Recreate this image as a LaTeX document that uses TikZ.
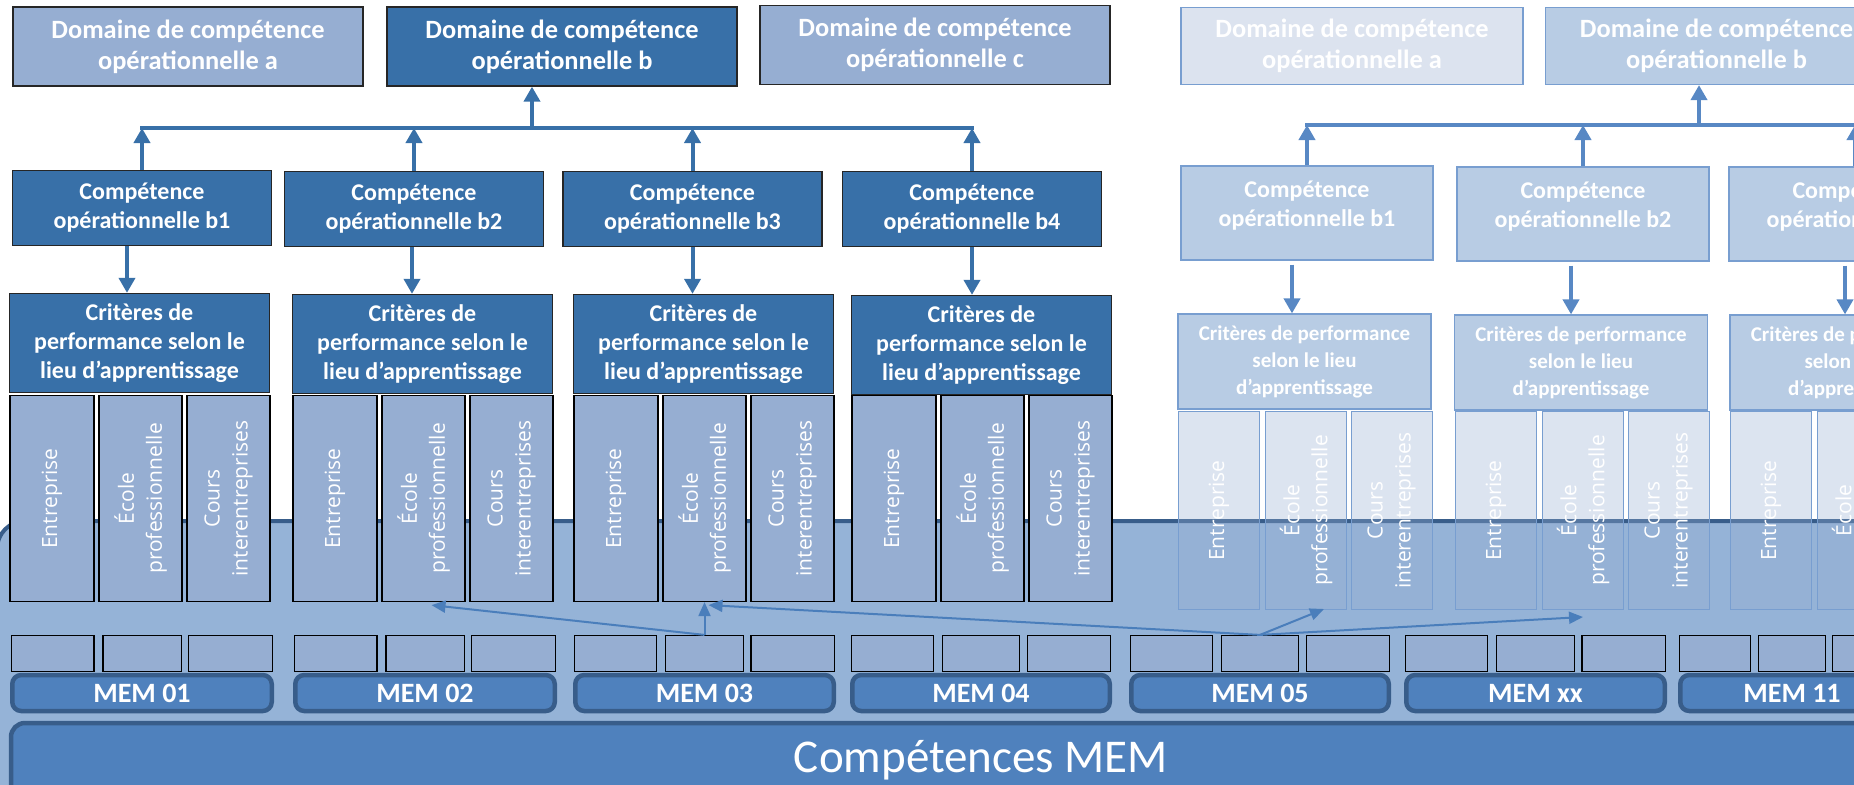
\documentclass[tikz,border=0pt]{standalone}
\usepackage{fontspec}
\setmainfont{Carlito}
\newfontfamily\colfont{Open Sans}
\usetikzlibrary{arrows.meta, calc}

\definecolor{boxDark}{RGB}{56,112,168}
\definecolor{boxLight}{RGB}{150,174,210}
\definecolor{bgBlue}{RGB}{149,179,215}
\definecolor{memFill}{RGB}{79,129,189}
\definecolor{memLine}{RGB}{56,93,138}
\definecolor{arrowDark}{RGB}{56,112,168}
\definecolor{arrowFade}{RGB}{88,136,196}
\definecolor{lineFade}{RGB}{120,158,208}
\definecolor{fadeDark}{RGB}{184,204,228}
\definecolor{fadeLight}{RGB}{220,227,239}
\definecolor{linkBlue}{RGB}{74,126,187}

\begin{document}
\begin{tikzpicture}[x=1pt, y=-1pt,
    box/.style={draw=black!85, line width=1.3pt, text=white, align=center, inner sep=1pt},
    dom/.style={box, font=\bfseries\fontsize{26.4}{31}\selectfont, minimum width=350, minimum height=79},
    comp/.style={box, fill=boxDark, font=\bfseries\fontsize{24}{29}\selectfont, minimum width=259, minimum height=75},
    crit/.style={box, fill=boxDark, font=\bfseries\fontsize{24}{29}\selectfont, minimum width=260, minimum height=99},
    ghost/.style={draw=lineFade, line width=1.2pt, fill=fadeDark, text=white, align=center, inner sep=1pt},
    gdom/.style={ghost, font=\bfseries\fontsize{26.4}{31}\selectfont, minimum width=342, minimum height=77},
    gcomp/.style={ghost, font=\bfseries\fontsize{24}{29}\selectfont, minimum width=252, minimum height=94},
    gcrit/.style={ghost, font=\bfseries\fontsize{21}{27}\selectfont, minimum width=253, minimum height=95},
    colbox/.style={draw=black, line width=1.2pt, fill=boxLight, inner sep=0pt, minimum width=83, minimum height=206},
    ghostcol/.style={draw=lineFade, line width=1pt, fill=boxLight, fill opacity=0.33, inner sep=0pt, minimum width=81, minimum height=198},
    coltext/.style={rotate=90, text=white, text opacity=1, fill opacity=1, align=center, font=\colfont\fontsize{21}{28}\selectfont},
    slot/.style={draw=black, line width=1.2pt, fill=boxLight, inner sep=0pt, minimum height=36},
    mem/.style={draw=memLine, line width=4.5pt, fill=memFill, rounded corners=9pt, text=white, inner sep=0pt, minimum height=36, font=\bfseries\fontsize{28}{34}\selectfont},
    bar/.style={draw=arrowDark, line width=4pt, line cap=rect},
    up/.style={draw=arrowDark, line width=4pt, -{Triangle[length=15pt,width=16pt]}},
    gbar/.style={draw=arrowFade, line width=4pt, line cap=rect},
    gup/.style={draw=arrowFade, line width=4pt, -{Triangle[length=15pt,width=16pt]}},
    link/.style={draw=linkBlue, line width=2pt, -{Triangle[length=14pt,width=12pt]}}]

    \useasboundingbox (0,0) rectangle (1854,784);
    \clip (0,0) rectangle (1854,784);

    % background band and base bar
    \draw[draw=memLine, line width=4pt, fill=bgBlue, rounded corners=28pt] (-3,521) rectangle (1900,840);
    \node[mem, minimum width=1940, minimum height=74, rounded corners=14pt, font=\fontsize{47}{56}\selectfont] (base) at (981,760) {Compétences MEM};

    % modules with their slots
    \foreach \g/\M/\W/\n in {1/10/264/01, 2/293/264/02, 3/573/263/03, 4/850/262/04, 5/1129/262/05, 6/1404/263/xx, 7/1678/228/11} {
        \node[slot, minimum width={0.32*\W-2}] (sa\g) at ({\M+(1+0.32*\W)/2}, 653.5) {};
        \node[slot, minimum width={0.3*\W-1}] (sb\g) at ({\M+0.5*\W}, 653.5) {};
        \node[slot, minimum width={0.325*\W-2}] (sc\g) at ({\M+(0.675*\W+\W-1)/2}, 653.5) {};
        \node[mem, minimum width={\W-4.5}] (mem\g) at ({\M+\W/2}, 693) {MEM \n};
    }

    % learning places, domain b
    \foreach \g/\L in {1/9, 2/292, 3/573, 4/851} {
        \node[colbox, minimum width=84, label={[coltext]center:Entreprise}] (ent\g) at (\L+43, 498.5) {};
        \node[colbox, label={[coltext]center:{École\\professionnelle}}] (eco\g) at (\L+131.5, 498.5) {};
        \node[colbox, label={[coltext]center:{Cours\\interentreprises}}] (cours\g) at (\L+219.5, 498.5) {};
    }
    \foreach \g/\L in {5/1177, 6/1454, 7/1729} {
        \node[ghostcol, label={[coltext]center:Entreprise}] (ent\g) at (\L+42, 510.5) {};
        \node[ghostcol, label={[coltext]center:{École\\professionnelle}}] (eco\g) at (\L+129, 510.5) {};
        \node[ghostcol, label={[coltext]center:{Cours\\interentreprises}}] (cours\g) at (\L+214.5, 510.5) {};
    }

    % domains
    \node[dom, fill=boxLight] (da) at (188,46.5) {Domaine de compétence\\opérationnelle a};
    \node[dom, fill=boxDark] (db) at (562,46.5) {Domaine de compétence\\opérationnelle b};
    \node[dom, fill=boxLight] (dc) at (935,45) {Domaine de compétence\\opérationnelle c};

    % competences b1..b4 and criteria
    \node[comp] (b1) at (142,208) {Compétence\\opérationnelle b1};
    \node[comp] (b2) at (414,209) {Compétence\\opérationnelle b2};
    \node[comp] (b3) at (692.5,209) {Compétence\\opérationnelle b3};
    \node[comp] (b4) at (972,209) {Compétence\\opérationnelle b4};
    \node[crit] (c1) at (139.5,343) {Critères de\\performance selon le\\lieu d’apprentissage};
    \node[crit] (c2) at (422.5,344) {Critères de\\performance selon le\\lieu d’apprentissage};
    \node[crit] (c3) at (703.5,344) {Critères de\\performance selon le\\lieu d’apprentissage};
    \node[crit] (c4) at (981.5,345) {Critères de\\performance selon le\\lieu d’apprentissage};

    \coordinate (hl) at (0,128);
    \coordinate (jb) at (532,128);
    \draw[bar] (b1.north |- hl) -- (b4.north |- hl);
    \draw[up] (jb) -- (jb |- db.south);
    \foreach \i/\dx in {1/-15, 2/-2, 3/0, 4/0} {
        \draw[up] (b\i.north) -- (b\i.north |- hl);
        \coordinate (t\i) at ([xshift=\dx]b\i.south);
        \draw[up] (t\i) -- (t\i |- c\i.north);
    }

    % faded copy on the right
    \node[gdom, fill=fadeLight] (gda) at (1352,46) {Domaine de compétence\\opérationnelle a};
    \node[gdom] (gdb) at (1716.5,46) {Domaine de compétence\\opérationnelle b};
    \node[gcomp] (gb1) at (1307,213) {Compétence\\opérationnelle b1\\[-10pt]\mbox{}};
    \node[gcomp] (gb2) at (1583,214) {Compétence\\opérationnelle b2\\[-10pt]\mbox{}};
    \node[gcomp] (gb3) at (1855,214) {Compétence\\opérationnelle b3\\[-10pt]\mbox{}};
    \node[gcrit] (gc1) at (1304.5,361.5) {Critères de performance\\selon le lieu\\d’apprentissage};
    \node[gcrit] (gc2) at (1581,362.5) {Critères de performance\\selon le lieu\\d’apprentissage};
    \node[gcrit] (gc3) at (1856.5,362.5) {Critères de performance\\selon le lieu\\d’apprentissage};

    \coordinate (ghl) at (0,125);
    \coordinate (gjb) at (1699,125);
    \draw[gbar] (gb1.north |- ghl) -- (gb3.north |- ghl);
    \draw[gup] (gjb) -- (gjb |- gdb.south);
    \foreach \i/\dx in {1/-15, 2/-12, 3/-10} {
        \draw[gup] (gb\i.north) -- (gb\i.north |- ghl);
        \coordinate (gt\i) at ([xshift=\dx]gb\i.south);
        \draw[gup, shorten <=4pt] (gt\i) -- (gt\i |- gc\i.north);
    }

    % links between modules and schools
    \draw[link] (sb3.north) -- ($(eco2.south)+(8,3)$);
    \draw[link] (sb3.north) -- (eco3.south);
    \draw[link] (sb5.north) -- ($(eco3.south)+(4,3)$);
    \draw[link] (sb5.north) -- ($(eco5.south)+(18,-1)$);
    \draw[link] (sb5.north) -- ($(eco6.south)+(0,7)$);
\end{tikzpicture}
\end{document}
